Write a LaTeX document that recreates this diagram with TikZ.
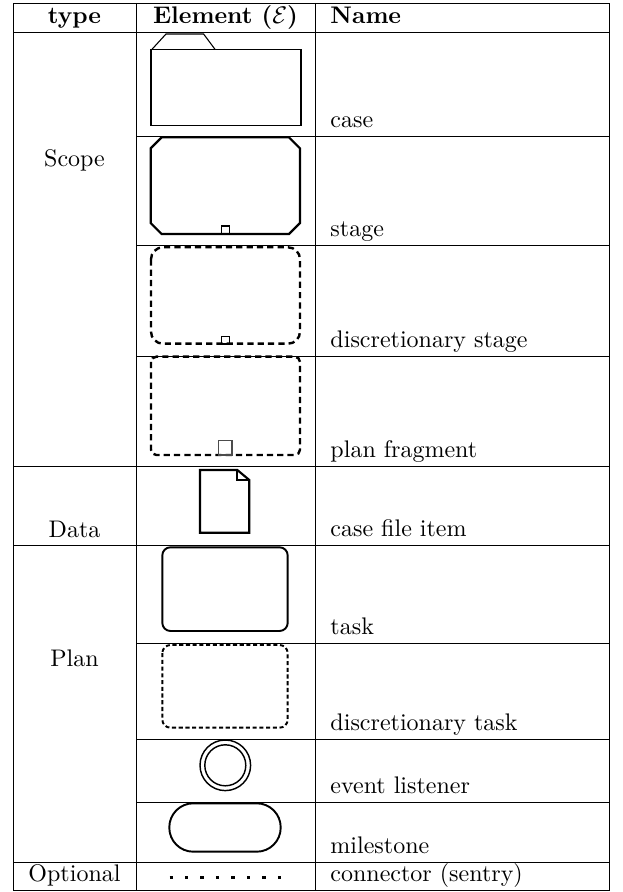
\documentclass[tikz,border=0pt]{standalone}
\begin{document}
\begin{tikzpicture}[x=0.41667pt,y=-0.41667pt,
  rule/.style={line width=0.4pt},
  txt/.style={inner sep=0pt,anchor=base},
  nm/.style={inner sep=0pt,anchor=base west},
  thin/.style={line width=0.45pt},
  thick/.style={line width=0.9pt},
  bigdash/.style={line width=1pt,dash pattern=on 2.6pt off 1.7pt},
  smalldash/.style={line width=0.8pt,dash pattern=on 1.7pt off 1.1pt}
]
\useasboundingbox (0,0) rectangle (622,892);
% table rules
\draw[rule] (13,3) rectangle (609,890.5);
\draw[rule] (136,3) -- (136,890.5);
\draw[rule] (315,3) -- (315,890.5);
\foreach \yy in {32,466.5,545,862} \draw[rule] (13,\yy) -- (609,\yy);
\foreach \yy in {136,245.5,356,643,739,802} \draw[rule] (136,\yy) -- (609,\yy);
% header
\node[txt] (htype) at (74.5,23.4) {\textbf{type}};
\node[txt] (helem) at (225.5,23.4) {\textbf{Element ($\mathcal{E}$)}};
\node[nm] (hname) at (330,23.4) {\textbf{Name}};
% type column
\node[txt] (tscope) at (74.5,167) {Scope};
\node[txt] (tdata) at (74.5,537) {Data};
\node[txt] (tplan) at (74.5,666) {Plan};
\node[txt] (topt) at (74.5,881.9) {Optional};
% names
\node[nm] (ncase) at (330,127.4) {case};
\node[nm] (nstage) at (330,236.9) {stage};
\node[nm] (ndstage) at (330,347.4) {discretionary stage};
\node[nm] (nfrag) at (330,457.9) {plan fragment};
\node[nm] (nfile) at (330,536.4) {case file item};
\node[nm] (ntask) at (330,634.4) {task};
\node[nm] (ndtask) at (330,730.4) {discretionary task};
\node[nm] (nevent) at (330,793.4) {event listener};
\node[nm] (nmile) at (330,853.4) {milestone};
\node[nm] (nconn) at (330,881.9) {connector (sentry)};
% case folder
\draw[thin] (151,49.3) rectangle (301,125.7);
\draw[thin] (152,49.3) -- (166,34) -- (203.6,34) -- (215,49.3);
% stage
\draw[thick] (161.7,137.3) -- (289,137.3) -- (300,148.3) -- (300,223) -- (289,234) -- (161.7,234) -- (150.7,223) -- (150.7,148.3) -- cycle;
\draw[thin] (221.3,226) rectangle (229.3,234);
% discretionary stage
\draw[bigdash,rounded corners=5pt] (151,247.3) rectangle (300,343.7);
\draw[thin] (221.3,336.3) rectangle (229.3,344);
% plan fragment
\draw[bigdash,rounded corners=2.2pt] (151,356.7) rectangle (300,455);
\draw[thin,black!70] (218.3,440.7) rectangle (232,455);
% case file item
\draw[thick] (200,470) -- (237.3,470) -- (249.3,480) -- (249.3,532.7) -- (200,532.7) -- cycle;
\draw[thick] (237.3,470) -- (237.3,480) -- (249.3,480);
% task
\draw[line width=0.8pt,rounded corners=3.4pt] (162.3,547.3) rectangle (287.7,631);
% discretionary task
\draw[smalldash,rounded corners=3.4pt] (162.3,645) rectangle (287.7,727.7);
% event listener
\draw[line width=0.6pt] (225.3,765.3) circle[radius=25.3];
\draw[line width=0.6pt] (225.3,765.3) circle[radius=20.5];
% milestone
\draw[line width=0.8pt,rounded corners=10pt] (169.3,803.3) rectangle (280.7,851.7);
% connector
\draw[line width=1.4pt,dash pattern=on 1.4pt off 5.05pt] (169.5,877.7) -- (282,877.7);
\end{tikzpicture}
\end{document}
